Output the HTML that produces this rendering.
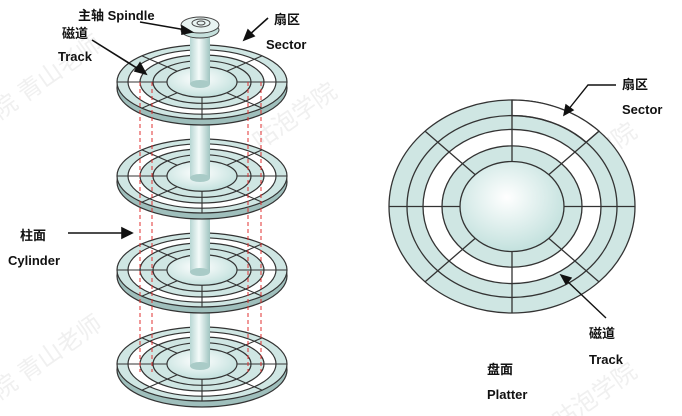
<!DOCTYPE html>
<html><head><meta charset="utf-8"><style>
html,body{margin:0;padding:0;background:#fff;width:682px;height:416px;overflow:hidden}
svg{display:block}
text{font-family:"Liberation Sans","Noto Sans CJK SC",sans-serif;font-weight:bold;font-size:13px;fill:#111}
</style></head><body>
<svg width="682" height="416" viewBox="0 0 682 416" xmlns="http://www.w3.org/2000/svg">
<defs>
<radialGradient id="hub" cx="0.45" cy="0.4" r="0.7"><stop offset="0" stop-color="#ffffff"/><stop offset="1" stop-color="#b9dcd8"/></radialGradient>
<linearGradient id="sp" x1="0" x2="1"><stop offset="0" stop-color="#b7d6d3"/><stop offset="0.45" stop-color="#f4fbfa"/><stop offset="1" stop-color="#9fc4c0"/></linearGradient>
<g id="pl">
 <ellipse cx="0" cy="6" rx="85" ry="37" fill="#9fbfbc" stroke="#333" stroke-width="1.2"/>
 <g transform="scale(1,0.435)">
  <circle r="85" fill="#cfe6e3" stroke="#333" stroke-width="1.2" vector-effect="non-scaling-stroke"/>
  <circle r="74" fill="#fff" stroke="#333" stroke-width="1.2" vector-effect="non-scaling-stroke"/>
  <circle r="62" fill="#cfe6e3" stroke="#333" stroke-width="1.2" vector-effect="non-scaling-stroke"/>
  <circle r="49" fill="#cfe6e3" stroke="#333" stroke-width="1.2" vector-effect="non-scaling-stroke"/>
  <circle r="35" fill="url(#hub)" stroke="#333" stroke-width="1.2" vector-effect="non-scaling-stroke"/>
  <g stroke="#333" stroke-width="1.1">
   <line x1="-85" y1="0" x2="-35" y2="0" vector-effect="non-scaling-stroke"/>
   <line x1="85" y1="0" x2="35" y2="0" vector-effect="non-scaling-stroke"/>
   <line x1="0" y1="85" x2="0" y2="35" vector-effect="non-scaling-stroke"/>
   <line x1="-60" y1="-60" x2="-25" y2="-25" vector-effect="non-scaling-stroke"/>
   <line x1="60" y1="-60" x2="25" y2="-25" vector-effect="non-scaling-stroke"/>
   <line x1="-60" y1="60" x2="-25" y2="25" vector-effect="non-scaling-stroke"/>
   <line x1="60" y1="60" x2="25" y2="25" vector-effect="non-scaling-stroke"/>
  </g>
 </g>
</g>
</defs>
<g style="fill:#f0f0f0;font-size:24px;font-weight:normal">
<text x="0" y="120" transform="rotate(-35 0 120)" style="fill:#f0f0f0;font-size:24px;font-weight:normal">院 青山老师</text>
<text x="260" y="150" transform="rotate(-35 260 150)" style="fill:#f0f0f0;font-size:24px;font-weight:normal">咕泡学院</text>
<text x="560" y="190" transform="rotate(-35 560 190)" style="fill:#f0f0f0;font-size:24px;font-weight:normal">咕泡学院</text>
<text x="0" y="400" transform="rotate(-35 0 400)" style="fill:#f0f0f0;font-size:24px;font-weight:normal">院 青山老师</text>
<text x="560" y="430" transform="rotate(-35 560 430)" style="fill:#f0f0f0;font-size:24px;font-weight:normal">咕泡学院</text>
</g>
<!-- platters drawn bottom to top with spindle segments -->
<use href="#pl" x="202" y="364"/>
<rect x="190" y="290" width="20" height="76" fill="url(#sp)"/>
<ellipse cx="200" cy="366" rx="10" ry="4" fill="#a9cbc7"/>
<use href="#pl" x="202" y="270"/>
<rect x="190" y="196" width="20" height="76" fill="url(#sp)"/>
<ellipse cx="200" cy="272" rx="10" ry="4" fill="#a9cbc7"/>
<use href="#pl" x="202" y="176"/>
<rect x="190" y="102" width="20" height="76" fill="url(#sp)"/>
<ellipse cx="200" cy="178" rx="10" ry="4" fill="#a9cbc7"/>
<use href="#pl" x="202" y="82"/>
<rect x="190" y="28" width="20" height="56" fill="url(#sp)"/>
<ellipse cx="200" cy="84" rx="10" ry="4" fill="#a9cbc7"/>
<!-- cap -->
<ellipse cx="200" cy="30" rx="19" ry="8" fill="#c5e0dc" stroke="#444"/>
<ellipse cx="200" cy="25" rx="19" ry="8" fill="#e8f4f2" stroke="#444"/>
<ellipse cx="201" cy="23" rx="9" ry="4" fill="none" stroke="#444"/>
<ellipse cx="201" cy="23" rx="4" ry="2" fill="none" stroke="#444"/>
<!-- red dashed -->
<g stroke="#e03030" stroke-width="1" stroke-dasharray="4,3">
<line x1="140" y1="82" x2="140" y2="372"/><line x1="152" y1="82" x2="152" y2="372"/>
<line x1="248" y1="82" x2="248" y2="372"/><line x1="261" y1="82" x2="261" y2="372"/>
</g>
<text x="78" y="20">主轴 Spindle</text>
<text x="62" y="38">磁道</text>
<text x="58" y="61">Track</text>
<text x="274" y="24">扇区</text>
<text x="266" y="49">Sector</text>
<text x="20" y="240">柱面</text>
<text x="8" y="265">Cylinder</text>
<g stroke="#111" stroke-width="1.6" fill="#111">
<line x1="140" y1="22" x2="186" y2="30"/><polygon points="192,32 182,26 182,34"/>
<line x1="92" y1="40" x2="140" y2="70"/><polygon points="146,74 135,71 140,63"/>
<line x1="268" y1="18" x2="248" y2="36"/><polygon points="244,40 248,30 254,36"/>
<line x1="68" y1="233" x2="124" y2="233"/><polygon points="132,233 122,228 122,238"/>
</g>
<!-- right platter -->
<g transform="translate(512,206.5) scale(1,0.866)">
 <g stroke="#333" stroke-width="1.3">
 <circle r="123" fill="#cfe6e3" vector-effect="non-scaling-stroke"/>
 <path d="M0,-123 A123,123 0 0 1 87,-87 L74,-74 A105,105 0 0 0 0,-105Z" fill="#fff" vector-effect="non-scaling-stroke"/>
 <circle r="105" fill="none" vector-effect="non-scaling-stroke"/>
 <circle r="89" fill="#fff" vector-effect="non-scaling-stroke"/>
 <circle r="70" fill="#cfe6e3" vector-effect="non-scaling-stroke"/>
 <circle r="52" fill="url(#hub)" vector-effect="non-scaling-stroke"/>
 <line x1="-123" y1="0" x2="-52" y2="0" vector-effect="non-scaling-stroke"/>
 <line x1="123" y1="0" x2="52" y2="0" vector-effect="non-scaling-stroke"/>
 <line x1="0" y1="-123" x2="0" y2="-52" vector-effect="non-scaling-stroke"/>
 <line x1="0" y1="123" x2="0" y2="52" vector-effect="non-scaling-stroke"/>
 <line x1="-87" y1="-87" x2="-37" y2="-37" vector-effect="non-scaling-stroke"/>
 <line x1="87" y1="-87" x2="37" y2="-37" vector-effect="non-scaling-stroke"/>
 <line x1="-87" y1="87" x2="-37" y2="37" vector-effect="non-scaling-stroke"/>
 <line x1="87" y1="87" x2="37" y2="37" vector-effect="non-scaling-stroke"/>
 </g>
</g>
<g stroke="#111" stroke-width="1.4" fill="#111">
<polyline points="616,85 588,85 568,110" fill="none"/><polygon points="564,115 566,105 573,110"/>
<line x1="606" y1="318" x2="566" y2="280"/><polygon points="561,275 571,278 566,284"/>
</g>
<text x="622" y="89">扇区</text>
<text x="622" y="114">Sector</text>
<text x="589" y="338">磁道</text>
<text x="589" y="364">Track</text>
<text x="487" y="374">盘面</text>
<text x="487" y="399">Platter</text>
</svg>
</body></html>
